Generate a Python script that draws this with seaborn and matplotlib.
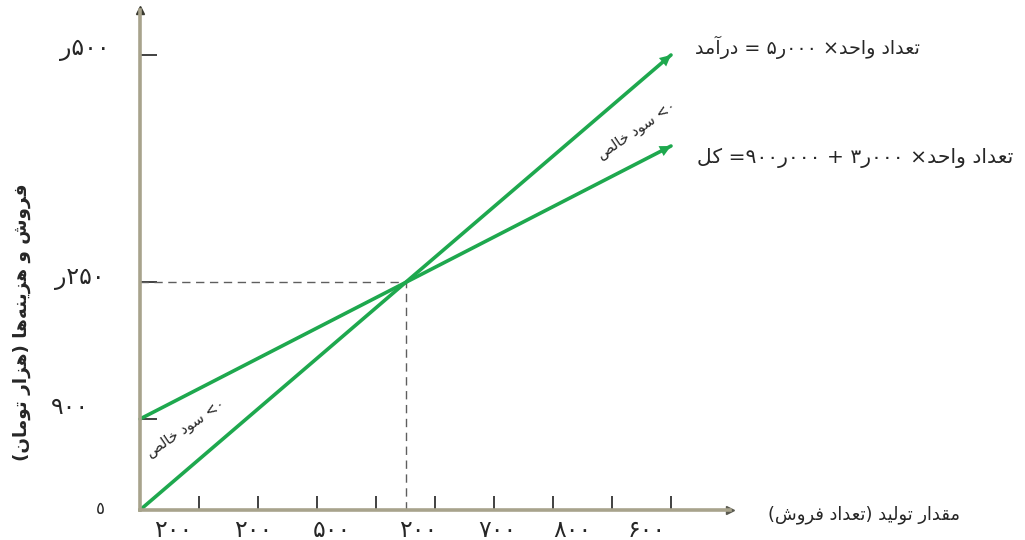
import matplotlib
matplotlib.use("Agg")
import matplotlib.pyplot as plt
import pandas as pd
import seaborn as sns

# ---------------- data (thousand toman) ----------------
units = [0, 900]
revenue = [0, 4500]          # 5,000 per unit
total_cost = [900, 3600]     # 900,000 fixed + 3,000 per unit
x_ticks = [100, 200, 300, 400, 500, 600, 700, 800, 900]
y_ticks = [900, 2250, 4500]

x_tick_labels = ["۲۰۰", "۲۰۰", "۵۰۰", "۲۰۰", "۷۰۰", "۸۰۰", "۶۰۰"]
y_tick_labels = ["۹۰۰", "۲۵۰ر", "۵۰۰ر"]
origin_label = "٥"

revenue_label = "تعداد واحد× ۰۰۰ر۵ = درآمد"
cost_label = "تعداد واحد× ۰۰۰ر۳ + ۰۰۰ر۹۰۰= کل"
profit_label = "۰> سود خالص"
loss_label = "۰> سود خالص"
x_title = "مقدار تولید (تعداد فروش)"
y_title = "فروش و هزینه‌ها (هزار تومان)"

# ---------------- minimal Arabic-script shaping + RTL ordering ----------------
# forms: (isolated, final, initial, medial); right-joining letters have no initial/medial
FORMS = {
    "ا": ("\uFE8D", "\uFE8E", None, None),
    "آ": ("\uFE81", "\uFE82", None, None),
    "د": ("\uFEA9", "\uFEAA", None, None),
    "ر": ("\uFEAD", "\uFEAE", None, None),
    "ز": ("\uFEAF", "\uFEB0", None, None),
    "و": ("\uFEED", "\uFEEE", None, None),
    "ت": ("\uFE95", "\uFE96", "\uFE97", "\uFE98"),
    "ع": ("\uFEC9", "\uFECA", "\uFECB", "\uFECC"),
    "ح": ("\uFEA1", "\uFEA2", "\uFEA3", "\uFEA4"),
    "خ": ("\uFEA5", "\uFEA6", "\uFEA7", "\uFEA8"),
    "م": ("\uFEE1", "\uFEE2", "\uFEE3", "\uFEE4"),
    "ل": ("\uFEDD", "\uFEDE", "\uFEDF", "\uFEE0"),
    "س": ("\uFEB1", "\uFEB2", "\uFEB3", "\uFEB4"),
    "ش": ("\uFEB5", "\uFEB6", "\uFEB7", "\uFEB8"),
    "ص": ("\uFEB9", "\uFEBA", "\uFEBB", "\uFEBC"),
    "ق": ("\uFED5", "\uFED6", "\uFED7", "\uFED8"),
    "ف": ("\uFED1", "\uFED2", "\uFED3", "\uFED4"),
    "ه": ("\uFEE9", "\uFEEA", "\uFEEB", "\uFEEC"),
    "ن": ("\uFEE5", "\uFEE6", "\uFEE7", "\uFEE8"),
    "ی": ("\uFBFC", "\uFBFD", "\uFBFE", "\uFBFF"),
    "ک": ("\uFB8E", "\uFB8F", "\uFB90", "\uFB91"),
}
DIGITS = set("۰۱۲۳۴۵۶۷۸۹٠١٢٣٤٥٦٧٨٩0123456789")
MIRROR = {"(": ")", ")": "(", "<": ">", ">": "<"}


def _dual(ch):
    return ch in FORMS and FORMS[ch][2] is not None


def shape(text):
    out = []
    n = len(text)
    for i, ch in enumerate(text):
        if ch == "\u200c":
            continue
        if ch not in FORMS:
            out.append(ch)
            continue
        prev = text[i - 1] if i > 0 else ""
        nxt = text[i + 1] if i + 1 < n else ""
        join_prev = _dual(prev)
        join_next = _dual(ch) and nxt in FORMS
        iso, fin, ini, med = FORMS[ch]
        if join_prev and join_next:
            out.append(med)
        elif join_next:
            out.append(ini)
        elif join_prev:
            out.append(fin)
        else:
            out.append(iso)
    return "".join(out)


def rtl(text):
    shaped = shape(text)
    runs = []
    for ch in shaped:
        is_digit = ch in DIGITS
        if runs and is_digit and runs[-1][0]:
            runs[-1][1].append(ch)
        elif runs and not is_digit and not runs[-1][0]:
            runs[-1][1].append(ch)
        else:
            runs.append([is_digit, [ch]])
    pieces = []
    for is_digit, chars in reversed(runs):
        if is_digit:
            pieces.append("".join(chars))
        else:
            pieces.append("".join(MIRROR.get(c, c) for c in reversed(chars)))
    return "".join(pieces)


# ---------------- figure ----------------
sns.set_style("white")
plt.rcParams["font.family"] = ["DejaVu Sans"]

W, H = 1025, 540
fig = plt.figure(figsize=(W / 100, H / 100), dpi=100)
ax = fig.add_axes([140 / W, 30 / H, 590 / W, 500 / H])
ax.set_xlim(0, 1000)
ax.set_ylim(0, 4945)


def fx(px):
    return px / W


def fy(py):
    return 1 - py / H


green = "#1ea84e"
df = pd.DataFrame({
    "units": units * 2,
    "value": revenue + total_cost,
    "series": ["revenue"] * len(units) + ["cost"] * len(units),
})
sns.lineplot(data=df, x="units", y="value", hue="series",
             palette={"revenue": green, "cost": green},
             linewidth=2.6, legend=False, ax=ax, clip_on=False)

# arrow heads at the line ends
for series in (revenue, total_cost):
    x0, x1 = units[0], units[-1]
    y0, y1 = series[0], series[-1]
    t = 0.93
    ax.annotate("", xy=(x1, y1), xytext=(x0 + t * (x1 - x0), y0 + t * (y1 - y0)),
                arrowprops=dict(arrowstyle="-|>", color=green, lw=0,
                                mutation_scale=20, shrinkA=0, shrinkB=0),
                annotation_clip=False)

# break-even guides
slope_r = (revenue[-1] - revenue[0]) / (units[-1] - units[0])
slope_c = (total_cost[-1] - total_cost[0]) / (units[-1] - units[0])
be_x = (total_cost[0] - revenue[0]) / (slope_r - slope_c)
be_y = revenue[0] + slope_r * be_x
ax.plot([0, be_x], [be_y, be_y], color="#5e5e5e", lw=1, ls=(0, (6, 4)), zorder=1)
ax.plot([be_x, be_x], [0, be_y], color="#5e5e5e", lw=1, ls=(0, (6, 4)), zorder=1)

# axes
for side in ("top", "right"):
    ax.spines[side].set_visible(False)
for side in ("left", "bottom"):
    ax.spines[side].set_color("#a8a38c")
    ax.spines[side].set_linewidth(2.6)
ax.plot(1, 0, marker=">", ms=6, color="#5a5a50", transform=ax.transAxes, clip_on=False)
ax.plot(0, 1, marker="^", ms=6, color="#3a3a30", transform=ax.transAxes, clip_on=False)

ax.set_xticks(x_ticks)
ax.set_yticks(y_ticks)
ax.tick_params(axis="x", direction="in", length=10, width=1.3, color="#333333",
               bottom=True, labelbottom=False)
ax.tick_params(axis="y", direction="in", length=12, width=1.3, color="#333333",
               left=True, labelleft=False)
ax.set_xlabel("")
ax.set_ylabel("")

# tick labels
tick_font = 17
x_label_px = [173, 253, 332, 418, 497, 572, 647]
for lab, px in zip(x_tick_labels, x_label_px):
    fig.text(fx(px), fy(530), rtl(lab), ha="center", va="center", fontsize=tick_font)
y_label_px = [(70, 407), (80, 278), (85, 49)]
for lab, (px, py) in zip(y_tick_labels, y_label_px):
    fig.text(fx(px), fy(py), rtl(lab), ha="center", va="center", fontsize=tick_font)
fig.text(fx(100), fy(509), origin_label, ha="center", va="center", fontsize=12)

# equations
fig.text(fx(695), fy(47), rtl(revenue_label), ha="left", va="center", fontsize=13.8)
fig.text(fx(697), fy(158), rtl(cost_label), ha="left", va="center", fontsize=14.6)

# profit / loss zone notes
fig.text(fx(637), fy(130), rtl(profit_label), ha="center", va="center",
         fontsize=10.5, rotation=34)
fig.text(fx(186), fy(428), rtl(loss_label), ha="center", va="center",
         fontsize=10.5, rotation=34)

# axis titles
fig.text(fx(864), fy(515), rtl(x_title), ha="center", va="center", fontsize=12.9)
fig.text(fx(22), fy(322), rtl(y_title), ha="center", va="center", fontsize=13.2,
         fontweight="bold", rotation=90)

fig.savefig("out.png", dpi=100, facecolor="white")
